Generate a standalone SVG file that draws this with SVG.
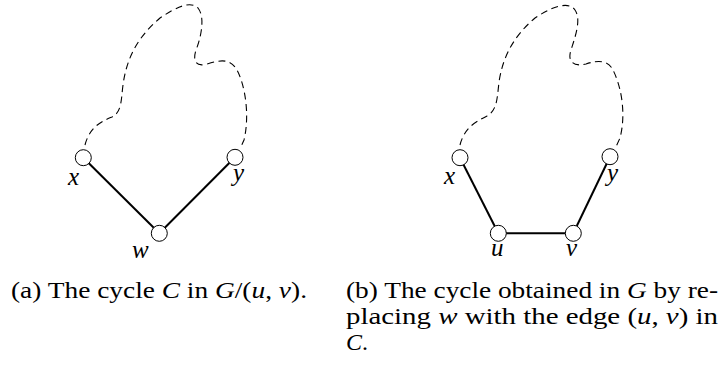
<svg xmlns="http://www.w3.org/2000/svg" width="720" height="369" viewBox="0 0 720 369">
<style>
.edge{stroke:#000;stroke-width:2;fill:none}
.dash{stroke:#000;stroke-width:1.1;fill:none;stroke-dasharray:7 4.5}
.node{fill:#fff;stroke:#000;stroke-width:1}
.lbl{font-family:"Liberation Serif","Times New Roman",serif;font-style:italic;font-size:25px;fill:#000}
.cap{font-family:"Liberation Serif","Times New Roman",serif;font-size:24px;fill:#000}
.m{font-style:italic}
</style>
<rect width="720" height="369" fill="#fff"/>
<g id="connectors">
<path class="dash" d="M85,145 C90,125 105,120 112,117 C122,112 121,100 123,85 C127,55 140,35 160,18 C175,8 190,0 198,8 C206,18 200,40 196,50 C192,62 197,67 207,64 C220,60 230,58 237,70 C245,85 250,115 244,140 L240,149"/>
<path class="dash" d="M460,145 C465,125 480,120 487,116 C497,110 497,100 499,82 C503,55 515,35 535,18 C550,8 568,0 575,10 C582,20 574,40 571,50 C567,62 574,67 586,64 C598,60 608,60 613,70 C622,88 626,115 620,138 L615,149"/>
<line class="edge" x1="83.3" y1="157.7" x2="159.3" y2="233.3"/>
<line class="edge" x1="235" y1="157.3" x2="159.3" y2="233.3"/>
<line class="edge" x1="460" y1="157.7" x2="498.3" y2="233.3"/>
<line class="edge" x1="498.3" y1="233.3" x2="573.3" y2="233.3"/>
<line class="edge" x1="573.3" y1="233.3" x2="610" y2="156.7"/>
</g>
<g id="a-x"><circle class="node" cx="83.3" cy="157.7" r="8"/><text class="lbl" x="68" y="185">x</text></g>
<g id="a-y"><circle class="node" cx="235" cy="157.3" r="8"/><text class="lbl" x="233" y="181">y</text></g>
<g id="a-w"><circle class="node" cx="159.3" cy="233.3" r="8"/><text class="lbl" x="132" y="258">w</text></g>
<g id="b-x"><circle class="node" cx="460" cy="157.7" r="8"/><text class="lbl" x="444" y="184">x</text></g>
<g id="b-y"><circle class="node" cx="610" cy="156.7" r="8"/><text class="lbl" x="607" y="181">y</text></g>
<g id="b-u"><circle class="node" cx="498.3" cy="233.3" r="8"/><text class="lbl" x="491" y="256">u</text></g>
<g id="b-v"><circle class="node" cx="573.3" cy="233.3" r="8"/><text class="lbl" x="566" y="256">v</text></g>
<g id="captions">
<text class="cap" x="11" y="298" textLength="296" lengthAdjust="spacingAndGlyphs">(a) The cycle <tspan class="m">C</tspan> in <tspan class="m">G</tspan>/(<tspan class="m">u</tspan>, <tspan class="m">v</tspan>).</text>
<text class="cap" x="346" y="298" textLength="372" lengthAdjust="spacingAndGlyphs">(b) The cycle obtained in <tspan class="m">G</tspan> by re-</text>
<text class="cap" x="346" y="324" textLength="372" lengthAdjust="spacingAndGlyphs">placing <tspan class="m">w</tspan> with the edge (<tspan class="m">u</tspan>, <tspan class="m">v</tspan>) in</text>
<text class="cap" x="346" y="350"><tspan class="m">C</tspan>.</text>
</g>
</svg>
